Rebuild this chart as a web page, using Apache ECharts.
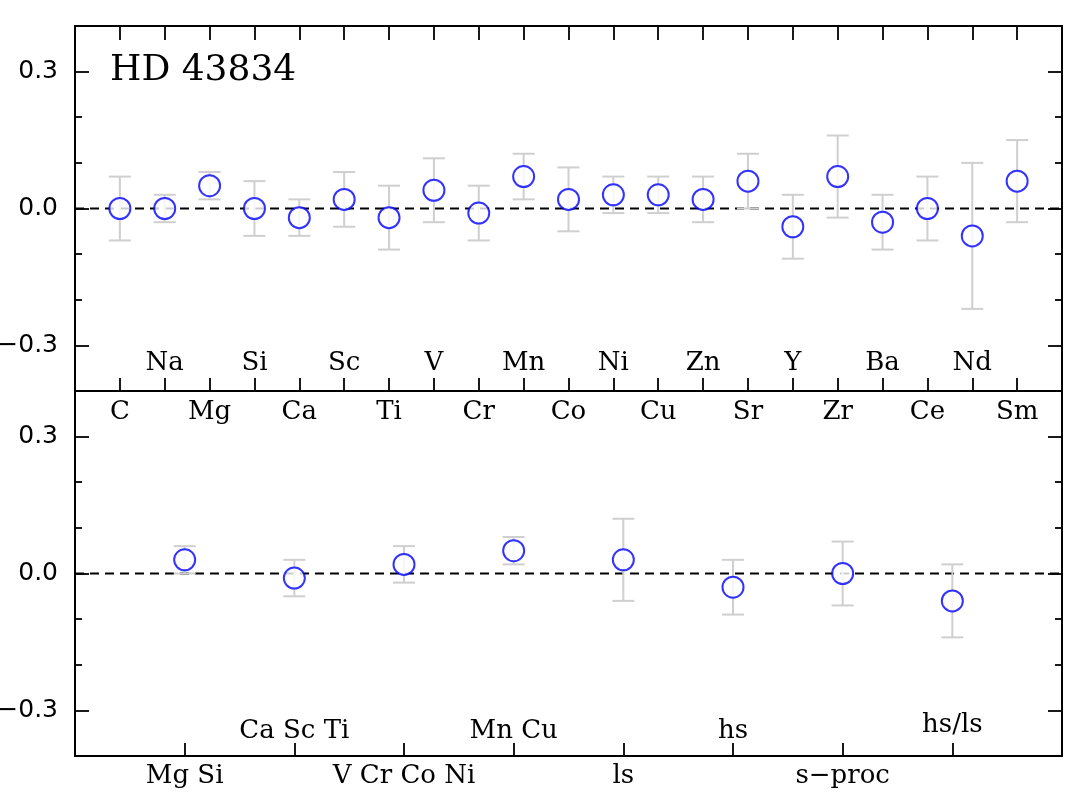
<!DOCTYPE html>
<html>
<head>
<meta charset="utf-8">
<script src="https://cdn.jsdelivr.net/npm/echarts@6/dist/echarts.min.js"></script>
<style>
  html, body { margin: 0; padding: 0; background: #fff; }
  #chart { width: 1067px; height: 797px; }
</style>
</head>
<body>
<div id="chart"></div>
<script>
// abundance differences, top panel (single elements)
const elements = ['C', 'Na', 'Mg', 'Si', 'Ca', 'Sc', 'Ti', 'V', 'Cr', 'Mn', 'Co', 'Ni', 'Cu', 'Zn', 'Sr', 'Y', 'Zr', 'Ba', 'Ce', 'Nd', 'Sm']
const elemValues = [0.00, 0.00, 0.05, 0.00, -0.02, 0.02, -0.02, 0.04, -0.01, 0.07, 0.02, 0.03, 0.03, 0.02, 0.06, -0.04, 0.07, -0.03, 0.00, -0.06, 0.06]
const elemErrors = [0.07, 0.03, 0.03, 0.06, 0.04, 0.06, 0.07, 0.07, 0.06, 0.05, 0.07, 0.04, 0.04, 0.05, 0.06, 0.07, 0.09, 0.06, 0.07, 0.16, 0.09]

// bottom panel (element groups)
const groups = ['Mg Si', 'Ca Sc Ti', 'V Cr Co Ni', 'Mn Cu', 'ls', 'hs', 's\u2212proc', 'hs/ls']
const groupValues = [0.03, -0.01, 0.02, 0.05, 0.03, -0.03, 0.00, -0.06]
const groupErrors = [0.03, 0.04, 0.04, 0.03, 0.09, 0.06, 0.07, 0.08]

const yTickLabels = [-0.3, 0, 0.3]
const yMinorTicks = [-0.2, -0.1, 0.1, 0.2]
const title = 'HD 43834'

const serif = 'DejaVu Serif'
const sans = 'DejaVu Sans'

const chart = echarts.init(document.getElementById('chart'))

function pts (vals) {
  return vals.map((v, i) => [i + 1, v])
}
function bars (vals, errs) {
  return vals.map((v, i) => [i + 1, v - errs[i], v + errs[i]])
}

// gray error bars with caps
function renderErr (params, api) {
  const top = api.coord([api.value(0), api.value(2)])
  const bot = api.coord([api.value(0), api.value(1)])
  const w = 11
  const style = { stroke: '#cfcfcf', lineWidth: 2 }
  return {
    type: 'group',
    children: [
      { type: 'line', shape: { x1: top[0], y1: top[1], x2: bot[0], y2: bot[1] }, style },
      { type: 'line', shape: { x1: top[0] - w, y1: top[1], x2: top[0] + w, y2: top[1] }, style },
      { type: 'line', shape: { x1: bot[0] - w, y1: bot[1], x2: bot[0] + w, y2: bot[1] }, style }
    ]
  }
}

function xAxisDef (grid, max, opts) {
  return Object.assign({
    type: 'value',
    gridIndex: grid,
    min: 0,
    max: max,
    interval: 1,
    position: 'bottom',
    axisLine: { show: false, onZero: false },
    splitLine: { show: false },
    axisTick: { show: false },
    axisLabel: { show: false }
  }, opts)
}

function labelFmt (names, odd) {
  return v => {
    if (v < 1 || v > names.length) return ''
    if ((v % 2 === 1) !== odd) return ''
    return names[v - 1]
  }
}

function yAxisDef (grid, pos, major) {
  const a = {
    type: 'value',
    gridIndex: grid,
    min: -0.4,
    max: 0.4,
    position: pos,
    axisLine: { show: false, onZero: false },
    splitLine: { show: false },
    axisTick: {
      show: true,
      inside: true,
      length: major ? 14 : 7,
      customValues: major ? yTickLabels : yMinorTicks,
      lineStyle: { color: '#000', width: 1.8 }
    },
    axisLabel: { show: false }
  }
  if (major && pos === 'left') {
    a.axisLabel = {
      show: true,
      customValues: yTickLabels,
      margin: 17,
      color: '#000',
      fontFamily: sans,
      fontSize: 25,
      formatter: v => {
        if (Math.abs(v) < 1e-9) return '0.0'
        return (v < 0 ? '\u2212' : '') + Math.abs(v).toFixed(1)
      }
    }
  }
  return a
}

const tickStyle = { color: '#000', width: 1.8 }
const labelStyle = { color: '#000', fontFamily: serif, fontSize: 26 }
const dash = { color: '#000', width: 2, type: [9, 6] }

chart.setOption({
  animation: false,
  backgroundColor: '#fff',
  title: {
    text: title,
    left: 105,
    top: 48,
    textStyle: { fontFamily: serif, fontSize: 36, fontWeight: 'normal', color: '#000' }
  },
  grid: [
    { left: 75, top: 26, width: 987, height: 365, outerBoundsMode: 'none', containLabel: false, show: true, borderColor: '#000', borderWidth: 2, backgroundColor: 'transparent' },
    { left: 75, top: 391, width: 987, height: 365, outerBoundsMode: 'none', containLabel: false, show: true, borderColor: '#000', borderWidth: 2, backgroundColor: 'transparent' }
  ],
  xAxis: [
    xAxisDef(0, elements.length + 1, {
      axisTick: { show: true, inside: true, length: 13, lineStyle: tickStyle },
      axisLabel: Object.assign({ show: true, margin: 8, formatter: labelFmt(elements, true) }, labelStyle)
    }),
    xAxisDef(0, elements.length + 1, {
      axisLabel: Object.assign({ show: true, inside: true, margin: 15, formatter: labelFmt(elements, false) }, labelStyle)
    }),
    xAxisDef(0, elements.length + 1, {
      position: 'top',
      axisTick: { show: true, inside: true, length: 14, lineStyle: tickStyle }
    }),
    xAxisDef(1, groups.length + 1, {
      axisTick: { show: true, inside: true, length: 13, lineStyle: tickStyle },
      axisLabel: Object.assign({ show: true, margin: 7, formatter: labelFmt(groups, true) }, labelStyle)
    }),
    xAxisDef(1, groups.length + 1, {
      axisLabel: Object.assign({
        show: true,
        inside: true,
        margin: 12,
        formatter: v => {
          const s = labelFmt(groups, false)(v)
          return s.indexOf('/') >= 0 ? '{up|' + s + '}' : s
        },
        rich: { up: { fontFamily: serif, fontSize: 26, color: '#000', padding: [0, 0, 6, 0] } }
      }, labelStyle)
    })
  ],
  yAxis: [
    yAxisDef(0, 'left', true),
    yAxisDef(0, 'left', false),
    yAxisDef(0, 'right', true),
    yAxisDef(0, 'right', false),
    yAxisDef(1, 'left', true),
    yAxisDef(1, 'left', false),
    yAxisDef(1, 'right', true),
    yAxisDef(1, 'right', false)
  ],
  series: [
    {
      type: 'line',
      xAxisIndex: 0,
      yAxisIndex: 0,
      z: 1,
      symbol: 'none',
      silent: true,
      data: [[0, 0], [elements.length + 1, 0]],
      lineStyle: dash
    },
    {
      type: 'line',
      xAxisIndex: 3,
      yAxisIndex: 4,
      z: 1,
      symbol: 'none',
      silent: true,
      data: [[0, 0], [groups.length + 1, 0]],
      lineStyle: dash
    },
    {
      type: 'custom',
      xAxisIndex: 0,
      yAxisIndex: 0,
      z: 2,
      renderItem: renderErr,
      encode: { x: 0, y: [1, 2] },
      data: bars(elemValues, elemErrors)
    },
    {
      type: 'custom',
      xAxisIndex: 3,
      yAxisIndex: 4,
      z: 2,
      renderItem: renderErr,
      encode: { x: 0, y: [1, 2] },
      data: bars(groupValues, groupErrors)
    },
    {
      type: 'scatter',
      xAxisIndex: 0,
      yAxisIndex: 0,
      z: 3,
      symbol: 'circle',
      symbolSize: 21,
      itemStyle: { color: '#fff', borderColor: '#0000ff', borderWidth: 2 },
      data: pts(elemValues)
    },
    {
      type: 'scatter',
      xAxisIndex: 3,
      yAxisIndex: 4,
      z: 3,
      symbol: 'circle',
      symbolSize: 21,
      itemStyle: { color: '#fff', borderColor: '#0000ff', borderWidth: 2 },
      data: pts(groupValues)
    }
  ]
})
</script>
</body>
</html>
